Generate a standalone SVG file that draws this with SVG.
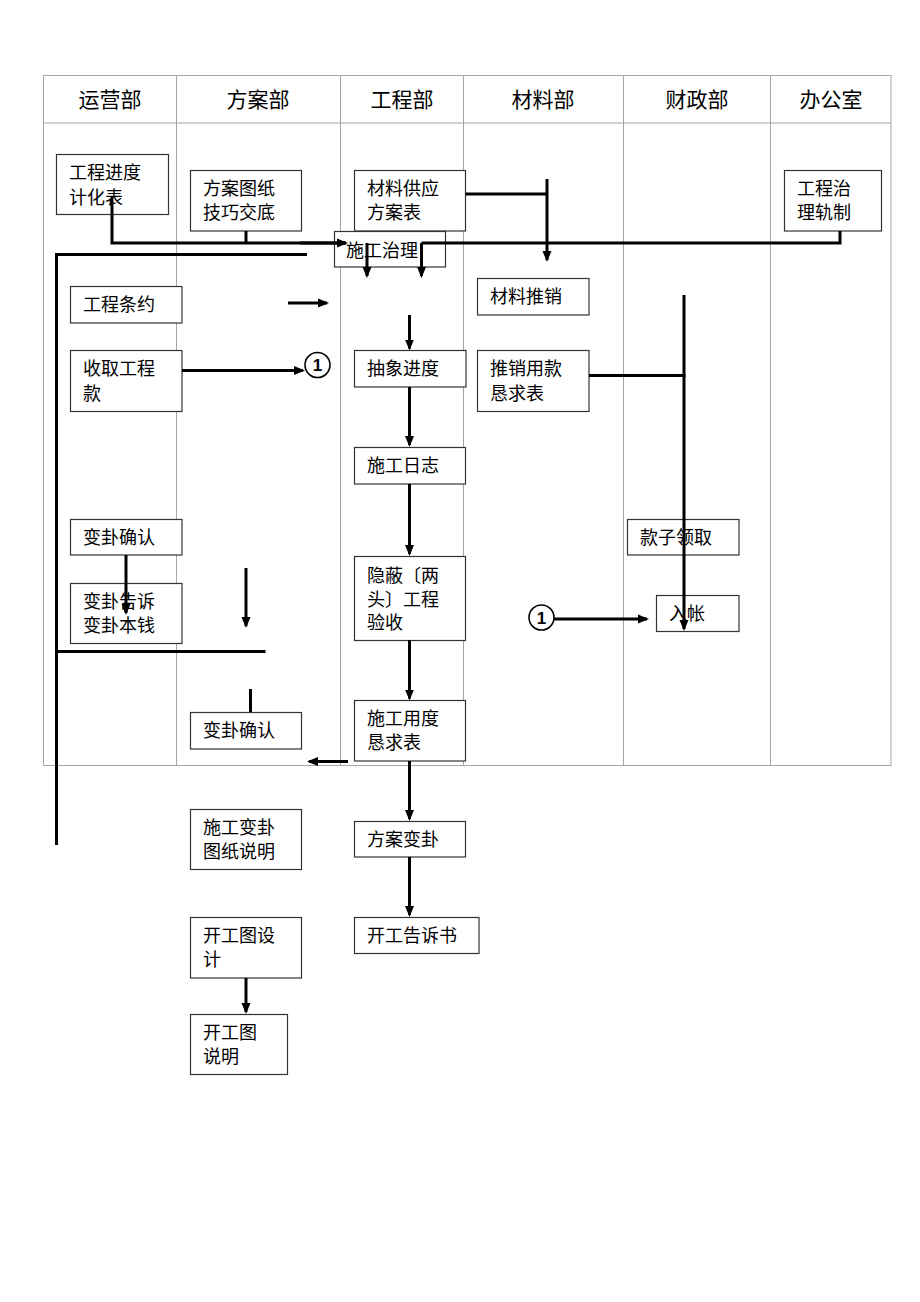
<svg xmlns="http://www.w3.org/2000/svg" width="920" height="1302" viewBox="0 0 920 1302">
<style>
.grid{stroke:#a6a6a6;stroke-width:1;fill:none}
.hd{font-family:"Liberation Sans","Noto Sans CJK SC",sans-serif;font-size:21px;fill:#000;text-anchor:middle}
.box{fill:#fff;stroke:#333;stroke-width:1.2}
.t{font-family:"Liberation Sans","Noto Sans CJK SC",sans-serif;font-size:18px;fill:#000}
.ln{stroke:#000;stroke-width:3;fill:none}
.ar{stroke:#000;stroke-width:3;fill:none;marker-end:url(#ah)}
.cir{fill:#fff;stroke:#000;stroke-width:1.6}
.cn{font-family:"Liberation Sans",sans-serif;font-size:17px;font-weight:bold;fill:#000;text-anchor:middle}
</style>
<defs>
<marker id="ah" markerUnits="userSpaceOnUse" markerWidth="12" markerHeight="10" refX="9" refY="5" orient="auto">
<path d="M0,0.5 L11,5 L0,9.5 z" fill="#000"/>
</marker>
</defs>
<rect width="920" height="1302" fill="#fff"/>
<g id="table">
<rect class="grid" x="43.5" y="75.5" width="847.5" height="690"/>
<line class="grid" x1="43.5" y1="123" x2="891" y2="123"/>
<line class="grid" x1="176.5" y1="75.5" x2="176.5" y2="765.5"/>
<line class="grid" x1="340.5" y1="75.5" x2="340.5" y2="765.5"/>
<line class="grid" x1="463.5" y1="75.5" x2="463.5" y2="765.5"/>
<line class="grid" x1="623.5" y1="75.5" x2="623.5" y2="765.5"/>
<line class="grid" x1="770.5" y1="75.5" x2="770.5" y2="765.5"/>
<text class="hd" x="110" y="107">运营部</text>
<text class="hd" x="258" y="107">方案部</text>
<text class="hd" x="402" y="107">工程部</text>
<text class="hd" x="543" y="107">材料部</text>
<text class="hd" x="697" y="107">财政部</text>
<text class="hd" x="831" y="107">办公室</text>
</g>
<g id="n1"><rect class="box" x="56.5" y="154.5" width="112" height="60"/><text class="t" x="69" y="179">工程进度</text><text class="t" x="69" y="204">计化表</text></g>
<g id="n2"><rect class="box" x="190.5" y="170.5" width="111" height="60.5"/><text class="t" x="203" y="195">方案图纸</text><text class="t" x="203" y="219">技巧交底</text></g>
<g id="n3"><rect class="box" x="354.5" y="170.5" width="111" height="60.5"/><text class="t" x="367" y="195">材料供应</text><text class="t" x="367" y="219">方案表</text></g>
<g id="n4"><rect class="box" x="784.5" y="170.5" width="97" height="60.5"/><text class="t" x="797" y="195">工程治</text><text class="t" x="797" y="219">理轨制</text></g>
<g id="n5"><rect class="box" x="334.5" y="231.5" width="111" height="35.5"/><text class="t" x="346" y="257">施工治理</text></g>
<g id="n6"><rect class="box" x="477.5" y="278.5" width="111.5" height="36.5"/><text class="t" x="490" y="303">材料推销</text></g>
<g id="n7"><rect class="box" x="70.5" y="286.5" width="111.5" height="36.5"/><text class="t" x="83" y="311">工程条约</text></g>
<g id="n8"><rect class="box" x="70.5" y="350.5" width="111.5" height="61"/><text class="t" x="83" y="375">收取工程</text><text class="t" x="83" y="400">款</text></g>
<g id="n9"><rect class="box" x="354.5" y="350.5" width="111.5" height="36.5"/><text class="t" x="367" y="375">抽象进度</text></g>
<g id="n10"><rect class="box" x="477.5" y="350.5" width="111.5" height="61"/><text class="t" x="490" y="375">推销用款</text><text class="t" x="490" y="400">恳求表</text></g>
<g id="n11"><rect class="box" x="354.5" y="447.5" width="111" height="36.5"/><text class="t" x="367" y="472">施工日志</text></g>
<g id="n12"><rect class="box" x="70.5" y="519.5" width="111.5" height="35.5"/><text class="t" x="83" y="544">变卦确认</text></g>
<g id="n13"><rect class="box" x="627.5" y="519.5" width="111.5" height="35.5"/><text class="t" x="640" y="544">款子领取</text></g>
<g id="n14"><rect class="box" x="70.5" y="583.5" width="111.5" height="60"/><text class="t" x="83" y="608">变卦告诉</text><text class="t" x="83" y="632">变卦本钱</text></g>
<g id="n15"><rect class="box" x="354.5" y="556.5" width="111" height="84"/><text class="t" x="367" y="582">隐蔽〔两</text><text class="t" x="367" y="606">头〕工程</text><text class="t" x="367" y="629">验收</text></g>
<g id="n16"><rect class="box" x="656.5" y="595.5" width="82.5" height="36"/><text class="t" x="669" y="620">入帐</text></g>
<g id="n17"><rect class="box" x="190.5" y="712.5" width="111" height="36.5"/><text class="t" x="203" y="737">变卦确认</text></g>
<g id="n18"><rect class="box" x="354.5" y="700.5" width="111" height="60.5"/><text class="t" x="367" y="725">施工用度</text><text class="t" x="367" y="749">恳求表</text></g>
<g id="n19"><rect class="box" x="190.5" y="809.5" width="111" height="60"/><text class="t" x="203" y="834">施工变卦</text><text class="t" x="203" y="858">图纸说明</text></g>
<g id="n20"><rect class="box" x="354.5" y="821.5" width="111" height="35.5"/><text class="t" x="367" y="846">方案变卦</text></g>
<g id="n21"><rect class="box" x="190.5" y="917.5" width="111" height="60.5"/><text class="t" x="203" y="942">开工图设</text><text class="t" x="203" y="966">计</text></g>
<g id="n22"><rect class="box" x="354.5" y="917.5" width="124.5" height="36"/><text class="t" x="367" y="942">开工告诉书</text></g>
<g id="n23"><rect class="box" x="190.5" y="1014.5" width="97" height="60"/><text class="t" x="203" y="1039">开工图</text><text class="t" x="203" y="1063">说明</text></g>
<g id="c1"><circle class="cir" cx="317.5" cy="365" r="12.5"/><text class="cn" x="317.5" y="371">1</text></g>
<g id="c2"><circle class="cir" cx="541.5" cy="617.5" r="12.5"/><text class="cn" x="541.5" y="623.5">1</text></g>
<g id="connectors">
<path class="ln" d="M112,196 V243 H346"/>
<path class="ar" d="M300,243 H346"/>
<line class="ln" x1="246" y1="231" x2="246" y2="243"/>
<path class="ln" d="M421.5,243 H840 V231"/>
<line class="ar" x1="421.5" y1="243" x2="421.5" y2="276"/>
<line class="ar" x1="367" y1="243" x2="367" y2="276"/>
<path class="ln" d="M307,254.5 H56.5 V845"/>
<line class="ln" x1="465.5" y1="194" x2="547" y2="194"/>
<line class="ar" x1="547" y1="179" x2="547" y2="260"/>
<line class="ar" x1="288" y1="303" x2="327" y2="303"/>
<line class="ar" x1="409.5" y1="315" x2="409.5" y2="348.5"/>
<line class="ar" x1="182" y1="370.5" x2="303" y2="370.5"/>
<line class="ar" x1="409.5" y1="387" x2="409.5" y2="445"/>
<line class="ar" x1="409.5" y1="484" x2="409.5" y2="554"/>
<line class="ar" x1="409.5" y1="640" x2="409.5" y2="698.5"/>
<line class="ar" x1="409.5" y1="761" x2="409.5" y2="819"/>
<line class="ar" x1="409.5" y1="857" x2="409.5" y2="915"/>
<line class="ln" x1="589" y1="375.5" x2="685.5" y2="375.5"/>
<line class="ar" x1="684" y1="295" x2="684" y2="629"/>
<line class="ar" x1="554" y1="619" x2="647" y2="619"/>
<line class="ar" x1="126" y1="555" x2="126" y2="613"/>
<line class="ar" x1="246" y1="568" x2="246" y2="626"/>
<line class="ln" x1="56.5" y1="651.5" x2="265.5" y2="651.5"/>
<line class="ln" x1="250.5" y1="689" x2="250.5" y2="712"/>
<line class="ar" x1="348" y1="761.5" x2="309" y2="761.5"/>
<line class="ar" x1="246" y1="978" x2="246" y2="1012"/>
</g>
</svg>
